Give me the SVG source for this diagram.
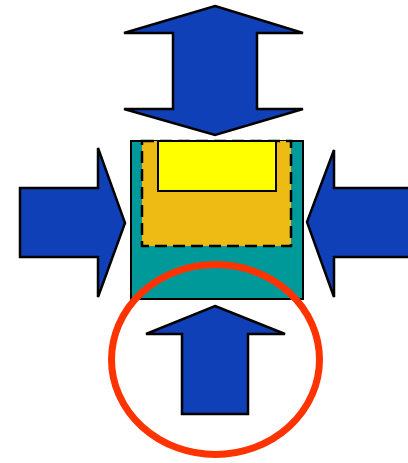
<svg xmlns="http://www.w3.org/2000/svg" width="408" height="463" viewBox="0 0 408 463">
<style>
.arrow{fill:#1040B8;stroke:#000;stroke-width:2.5;stroke-linejoin:miter}
</style>
<rect width="408" height="463" fill="#fff"/>
<g id="box">
<rect x="131" y="141" width="172" height="158" fill="#009999" stroke="#000" stroke-width="2"/>
<rect x="142" y="141" width="149" height="105" fill="#EDBB13" stroke="#000" stroke-width="2.5" stroke-dasharray="12,6"/>
<rect x="158" y="141" width="118" height="50" fill="#FFFF00" stroke="#000" stroke-width="2"/>
</g>
<g id="arrow-top">
<polygon class="arrow" points="215,6 303,33 257,33 257,109 303,109 215,135 124,109 173,109 173,33 124,33"/>
</g>
<g id="arrow-left">
<polygon class="arrow" points="20,188 98,188 98,148 125,223 98,297 98,257 20,257"/>
</g>
<g id="arrow-right">
<polygon class="arrow" points="410,188 334,188 334,150 307,222 334,297 334,257 410,257"/>
</g>
<g id="arrow-bottom">
<polygon class="arrow" points="215,306 285,334 248,334 248,414 182,414 182,334 146,334"/>
</g>
<g id="circle">
<ellipse cx="215.5" cy="359.5" rx="104" ry="95" fill="none" stroke="#FF3300" stroke-width="7"/>
</g>
</svg>
